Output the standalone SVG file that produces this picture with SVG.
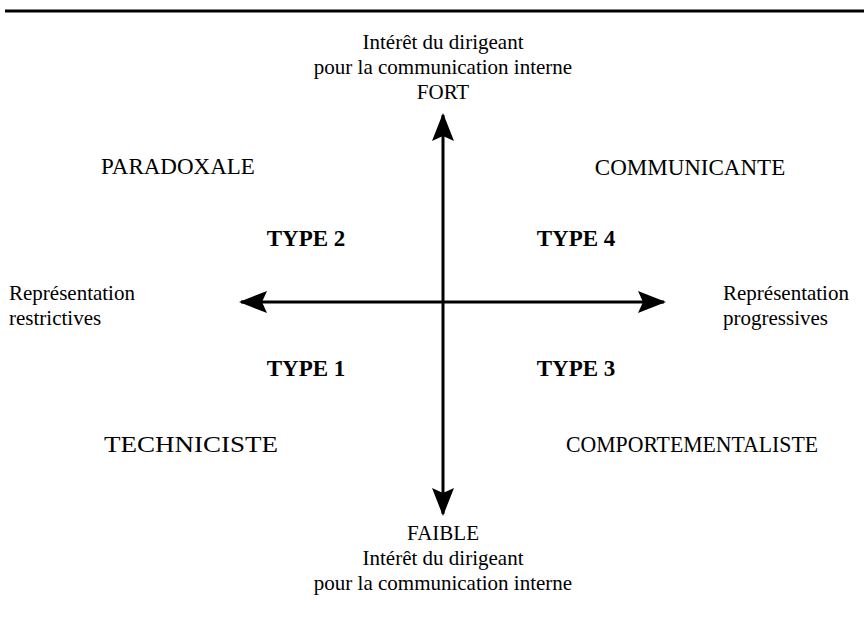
<svg xmlns="http://www.w3.org/2000/svg" width="864" height="632" viewBox="0 0 864 632">
<style>
text{font-family:"Liberation Serif","Times New Roman",serif;fill:#000}
.ax{font-size:21px}
.q{font-size:23px}
.t{font-size:23px;font-weight:bold}
.m{text-anchor:middle}
.shaft{stroke:#000;stroke-width:3;fill:none}
</style>
<defs>
<marker id="ah" viewBox="0 0 28 24" refX="26" refY="12" markerWidth="28" markerHeight="24" markerUnits="userSpaceOnUse" orient="auto">
<path d="M0,1 L28,12 L0,23 L5,12 Z" fill="#000"/>
</marker>
</defs>
<rect width="864" height="632" fill="#fff"/>
<line x1="5" y1="11" x2="864" y2="11" stroke="#000" stroke-width="3"/>
<g id="connectors">
<line class="shaft" x1="443" y1="302" x2="443" y2="115" marker-end="url(#ah)"/>
<line class="shaft" x1="443" y1="302" x2="443" y2="514" marker-end="url(#ah)"/>
<line class="shaft" x1="443" y1="302" x2="241" y2="302" marker-end="url(#ah)"/>
<line class="shaft" x1="443" y1="302" x2="664" y2="302" marker-end="url(#ah)"/>
</g>
<g id="top-label">
<text class="ax m" x="443" y="49">Intérêt du dirigeant</text>
<text class="ax m" x="443" y="74">pour la communication interne</text>
<text class="ax m" x="443" y="99">FORT</text>
</g>
<g id="bottom-label">
<text class="ax m" x="443" y="540">FAIBLE</text>
<text class="ax m" x="443" y="565">Intérêt du dirigeant</text>
<text class="ax m" x="443" y="590">pour la communication interne</text>
</g>
<g id="left-label">
<text class="ax" x="9" y="300">Représentation</text>
<text class="ax" x="9" y="325">restrictives</text>
</g>
<g id="right-label">
<text class="ax" x="723" y="300">Représentation</text>
<text class="ax" x="723" y="325">progressives</text>
</g>
<g id="paradoxale"><text class="q m" x="178" y="174">PARADOXALE</text></g>
<g id="communicante"><text class="q m" x="690" y="175">COMMUNICANTE</text></g>
<g id="type2"><text class="t m" x="306" y="246">TYPE 2</text></g>
<g id="type4"><text class="t m" x="576" y="246">TYPE 4</text></g>
<g id="type1"><text class="t m" x="306" y="376">TYPE 1</text></g>
<g id="type3"><text class="t m" x="576" y="376">TYPE 3</text></g>
<g id="techniciste"><text class="q" x="104" y="452" textLength="174" lengthAdjust="spacingAndGlyphs">TECHNICISTE</text></g>
<g id="comportementaliste"><text class="q" x="566" y="452" textLength="252" lengthAdjust="spacingAndGlyphs">COMPORTEMENTALISTE</text></g>
</svg>
